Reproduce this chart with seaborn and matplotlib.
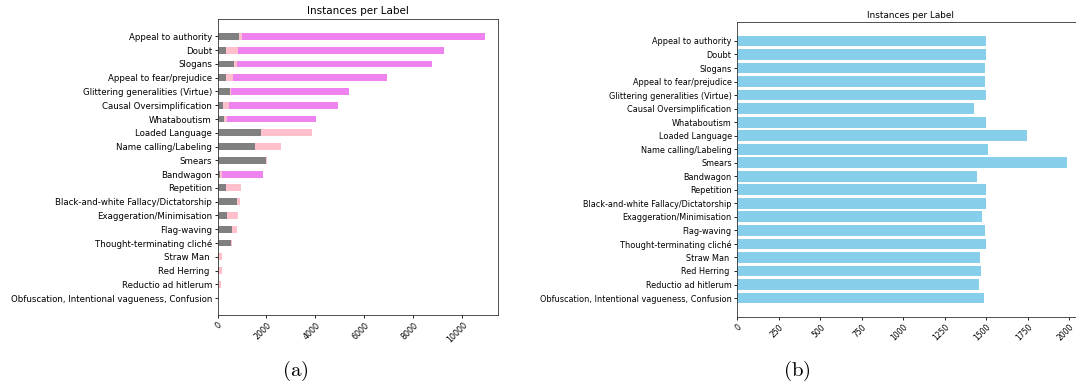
import numpy as np
import pandas as pd
import matplotlib
matplotlib.use("Agg")
import matplotlib.pyplot as plt
import seaborn as sns

labels = [
    "Appeal to authority", "Doubt", "Slogans", "Appeal to fear/prejudice",
    "Glittering generalities (Virtue)", "Causal Oversimplification", "Whataboutism",
    "Loaded Language", "Name calling/Labeling", "Smears", "Bandwagon", "Repetition",
    "Black-and-white Fallacy/Dictatorship", "Exaggeration/Minimisation", "Flag-waving",
    "Thought-terminating cliché", "Straw Man ", "Red Herring ", "Reductio ad hitlerum",
    "Obfuscation, Intentional vagueness, Confusion",
]

# (a) stacked counts: grey, pink, violet segments
seg_gray = [860, 355, 680, 355, 520, 230, 260, 1760, 1525, 1990, 110, 330, 790, 370, 600, 545, 55, 55, 40, 15]
seg_pink = [135, 490, 110, 285, 20, 235, 120, 2100, 1050, 25, 70, 610, 110, 460, 205, 55, 120, 120, 95, 10]
seg_violet = [9910, 8400, 7950, 6285, 4820, 4455, 3640, 0, 0, 0, 1680, 0, 0, 0, 0, 0, 0, 0, 0, 0]

# (b) balanced counts
balanced = [1496, 1500, 1492, 1492, 1496, 1428, 1496, 1743, 1512, 1984, 1446, 1496, 1500,
            1474, 1492, 1496, 1460, 1466, 1456, 1486]

xticks_a = [0, 2000, 4000, 6000, 8000, 10000]
xticks_b = [0, 250, 500, 750, 1000, 1250, 1500, 1750, 2000]

sns.set_style("ticks")
plt.rcParams["font.family"] = ["DejaVu Sans"]
plt.rcParams["mathtext.fontset"] = "cm"
plt.rcParams["text.color"] = "black"
plt.rcParams["xtick.color"] = "black"
plt.rcParams["ytick.color"] = "black"
plt.rcParams["axes.labelcolor"] = "black"

W, H = 1076, 385
fig = plt.figure(figsize=(W / 100, H / 100), dpi=100)

def px_axes(x0, y0, x1, y1):
    return fig.add_axes([x0 / W, 1 - y1 / H, (x1 - x0) / W, (y1 - y0) / H])

g = np.array(seg_gray, float)
p = np.array(seg_pink, float)
v = np.array(seg_violet, float)
df_a = pd.DataFrame({"label": labels, "gray": g, "gp": g + p, "total": g + p + v})
df_b = pd.DataFrame({"label": labels, "count": balanced})

# Panel (a)
ax1 = px_axes(217.5, 18.5, 498, 315)
sns.barplot(data=df_a, x="total", y="label", color="violet", width=0.5, saturation=1,
            linewidth=0, ax=ax1)
sns.barplot(data=df_a, x="gp", y="label", color="pink", width=0.5, saturation=1,
            linewidth=0, ax=ax1)
sns.barplot(data=df_a, x="gray", y="label", color="gray", width=0.5, saturation=1,
            linewidth=0, ax=ax1)
ax1.set_xlim(0, 11450)
ax1.set_ylim(20.23, -1.3)
ax1.set_xticks(xticks_a)
ax1.set_xticklabels([str(t) for t in xticks_a], rotation=45, ha="right", rotation_mode="anchor")
ax1.set_xlabel("")
ax1.set_ylabel("")
ax1.set_title("Instances per Label", fontsize=7.5, pad=3)
ax1.tick_params(axis="y", labelsize=6.2, length=2.5, width=0.6, pad=1.5)
ax1.tick_params(axis="x", labelsize=5.8, length=2.5, width=0.6, pad=1.5)
for s in ax1.spines.values():
    s.set_linewidth(0.6)
    s.set_color("#333333")

# Panel (b)
ax2 = px_axes(737.3, 22, 1083, 317)
sns.barplot(data=df_b, x="count", y="label", color="skyblue", width=0.8, saturation=1,
            linewidth=0, ax=ax2)
ax2.set_xlim(0, 2083)
ax2.set_ylim(20.4, -1.4)
ax2.set_xticks(xticks_b)
ax2.set_xticklabels([str(t) for t in xticks_b], rotation=45, ha="right", rotation_mode="anchor")
ax2.set_xlabel("")
ax2.set_ylabel("")
ax2.set_title("Instances per Label", fontsize=6.4, pad=3)
ax2.tick_params(axis="y", labelsize=5.9, length=2.5, width=0.6, pad=1.5)
ax2.tick_params(axis="x", labelsize=5.5, length=2.5, width=0.6, pad=1.5)
for s in ax2.spines.values():
    s.set_linewidth(0.6)
    s.set_color("#333333")

fig.text(295 / W, 1 - 371 / H, r"$\mathrm{(a)}$", fontsize=15, ha="center", va="center")
fig.text(797 / W, 1 - 371 / H, r"$\mathrm{(b)}$", fontsize=15, ha="center", va="center")

fig.savefig("out.png", dpi=100)
